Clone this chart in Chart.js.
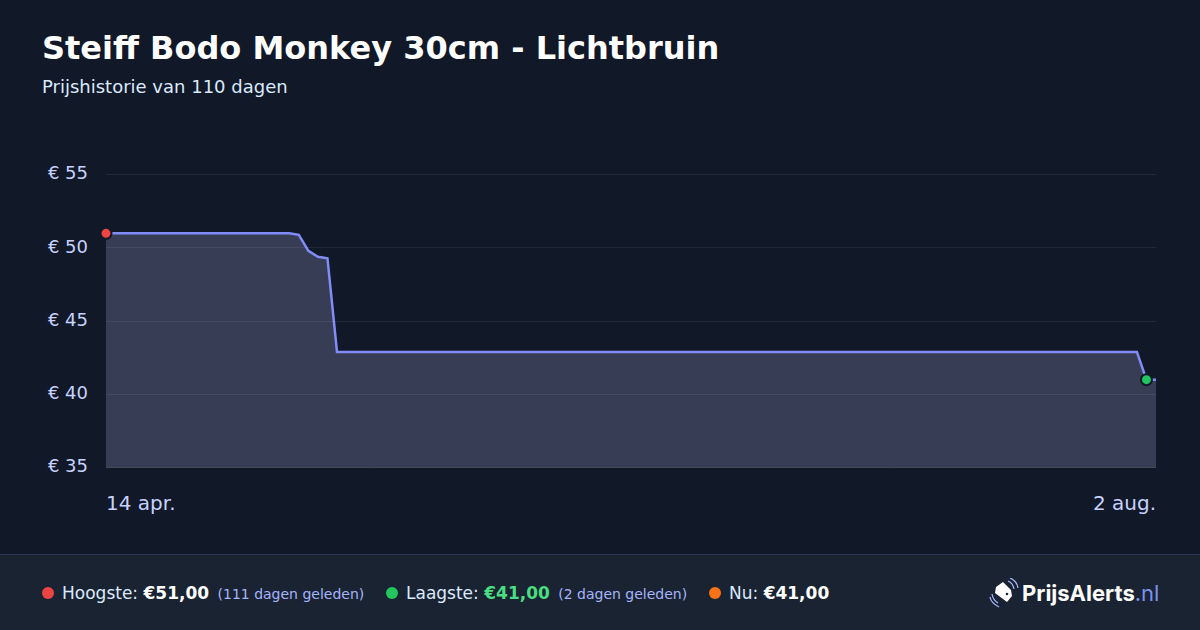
<!DOCTYPE html>
<html lang="nl">
<head>
    <meta charset="UTF-8">
    <title>Steiff Bodo Monkey 30cm - Lichtbruin</title>
    <script src="https://cdn.jsdelivr.net/npm/chart.js"></script>
    <style>
        html, body {
            margin: 0;
            padding: 0;
            width: 1200px;
            height: 630px;
            overflow: hidden;
            background: #111827;
            font-family: 'DejaVu Sans', sans-serif;
        }

        h1 {
            position: absolute;
            left: 42px;
            top: 28px;
            margin: 0;
            font-size: 32px;
            line-height: 40px;
            font-weight: 700;
            color: #fff;
            white-space: nowrap;
        }

        .sub {
            position: absolute;
            left: 42px;
            top: 76px;
            font-size: 18px;
            line-height: 22px;
            color: #dbeafe;
        }

        .chart-box {
            position: absolute;
            left: 0;
            top: 146px;
            width: 1200px;
            height: 384px;
        }

        canvas { display: block; }

        .footer {
            position: absolute;
            left: 0;
            top: 554px;
            width: 1200px;
            height: 76px;
            box-sizing: border-box;
            border-top: 1px solid #2a3352;
            background: #1a2332;
        }

        .item {
            position: absolute;
            top: 26px;
            line-height: 24px;
            font-size: 17px;
            color: #dbeafe;
            white-space: nowrap;
        }

        .dot {
            position: absolute;
            top: 32px;
            width: 12px;
            height: 12px;
            border-radius: 50%;
        }

        .item b { font-size: 17px; color: #fff; }
        .item b.low { color: #4ade80; }
        .item small { font-size: 14px; color: #a5b4fc; margin-left: 3px; }

        .logo {
            position: absolute;
            left: 989px;
            top: 23px;
        }

        .logo-text {
            position: absolute;
            left: 1022px;
            top: 25px;
            font-family: Inter, sans-serif;
            font-size: 22px;
            line-height: 26px;
            font-weight: 700;
            color: #fff;
            white-space: nowrap;
        }

        .logo-text span { font-weight: 400; color: #7c93ee; }
    </style>
</head>
<body>

    <h1>Steiff Bodo Monkey 30cm - Lichtbruin</h1>
    <div class="sub">Prijshistorie van 110 dagen</div>

    <div class="chart-box">
        <canvas id="priceChart" width="1200" height="384"></canvas>
    </div>

    <div class="footer">
        <span class="dot" style="left:42px;background:#ef4444"></span>
        <span class="item" style="left:62px">Hoogste: <b>€51,00</b> <small>(111 dagen geleden)</small></span>
        <span class="dot" style="left:386px;background:#22c55e"></span>
        <span class="item" style="left:406px">Laagste: <b class="low">€41,00</b> <small>(2 dagen geleden)</small></span>
        <span class="dot" style="left:709px;background:#f97316"></span>
        <span class="item" style="left:729px">Nu: <b>€41,00</b></span>

        <svg class="logo" width="30" height="30" viewBox="0 0 30 30" fill="none">
            <path d="M7 9 L14 4 L22 12 L23 18 L18 24 L6 15 Z" fill="#fff"/>
            <circle cx="18" cy="16" r="1.3" fill="#1a2332"/>
            <path d="M19 3 Q24 5 25 11 M21 0 Q28 3 29 10" stroke="#a5b4fc" stroke-width="1.3"/>
            <path d="M3 16 Q4 22 9 25 M1 19 Q2 25 10 29" stroke="#a5b4fc" stroke-width="1.3"/>
        </svg>
        <div class="logo-text">PrijsAlerts<span>.nl</span></div>
    </div>

    <script>
        const days = [0, 19.2, 20.2, 21.2, 22.2, 23.2, 24.2, 108, 109, 110];
        const prices = [51, 51, 50.9, 49.8, 49.4, 49.3, 42.9, 42.9, 41, 41];
        const yTicks = [35, 40, 45, 50, 55];
        const xTicks = [0, 110];
        const xLabels = ['14 apr.', '2 aug.'];
        const highDay = 0;
        const lowDay = 109;

        function markerColor(ctx) {
            const day = days[ctx.dataIndex];
            if (day === highDay) return '#ef4444';
            if (day === lowDay) return '#22c55e';
            return 'transparent';
        }

        function markerRadius(ctx) {
            const day = days[ctx.dataIndex];
            return day === highDay || day === lowDay ? 5.5 : 0;
        }

        // opaque canvas so the tick labels get the same text rendering as the page
        const pageBackground = {
            id: 'pageBackground',
            beforeDraw(chart) {
                chart.ctx.fillStyle = '#111827';
                chart.ctx.fillRect(0, 0, chart.width, chart.height);
            }
        };

        new Chart(document.getElementById('priceChart').getContext('2d', { alpha: false }), {
            type: 'line',
            plugins: [pageBackground],
            data: {
                datasets: [{
                    data: days.map((d, i) => ({ x: d, y: prices[i] })),
                    borderColor: '#818cf8',
                    borderWidth: 2.5,
                    backgroundColor: 'rgba(195, 195, 255, 0.22)',
                    fill: 'start',
                    tension: 0,
                    clip: false,
                    pointRadius: markerRadius,
                    pointBackgroundColor: markerColor,
                    pointBorderColor: '#111827',
                    pointBorderWidth: 2
                }]
            },
            options: {
                responsive: false,
                animation: false,
                devicePixelRatio: 1,
                layout: { padding: { top: 20, right: 44, bottom: 0, left: 0 } },
                plugins: { legend: { display: false }, tooltip: { enabled: false } },
                scales: {
                    x: {
                        type: 'linear',
                        min: 0,
                        max: 110,
                        afterBuildTicks: axis => { axis.ticks = xTicks.map(v => ({ value: v })); },
                        afterFit: axis => { axis.height = 62.5; },
                        grid: { display: false },
                        border: { display: false },
                        ticks: {
                            align: 'inner',
                            maxRotation: 0,
                            autoSkip: false,
                            padding: 17.5,
                            color: '#c7d2fe',
                            font: { family: "'DejaVu Sans', sans-serif", size: 20 },
                            callback: v => xLabels[xTicks.indexOf(v)]
                        }
                    },
                    y: {
                        min: 35,
                        max: 55,
                        afterBuildTicks: axis => { axis.ticks = yTicks.map(v => ({ value: v })); },
                        afterFit: axis => { axis.width = 106; },
                        grid: {
                            z: 1,
                            drawTicks: false,
                            color: ctx => ctx.tick.value === 35 ? 'rgba(255, 255, 255, 0.2)' : 'rgba(255, 255, 255, 0.07)'
                        },
                        border: { display: false },
                        ticks: {
                            padding: 18,
                            color: '#c7d2fe',
                            font: { family: "'DejaVu Sans', sans-serif", size: 18 },
                            callback: v => '€ ' + v
                        }
                    }
                }
            }
        });
    </script>

</body>
</html>
